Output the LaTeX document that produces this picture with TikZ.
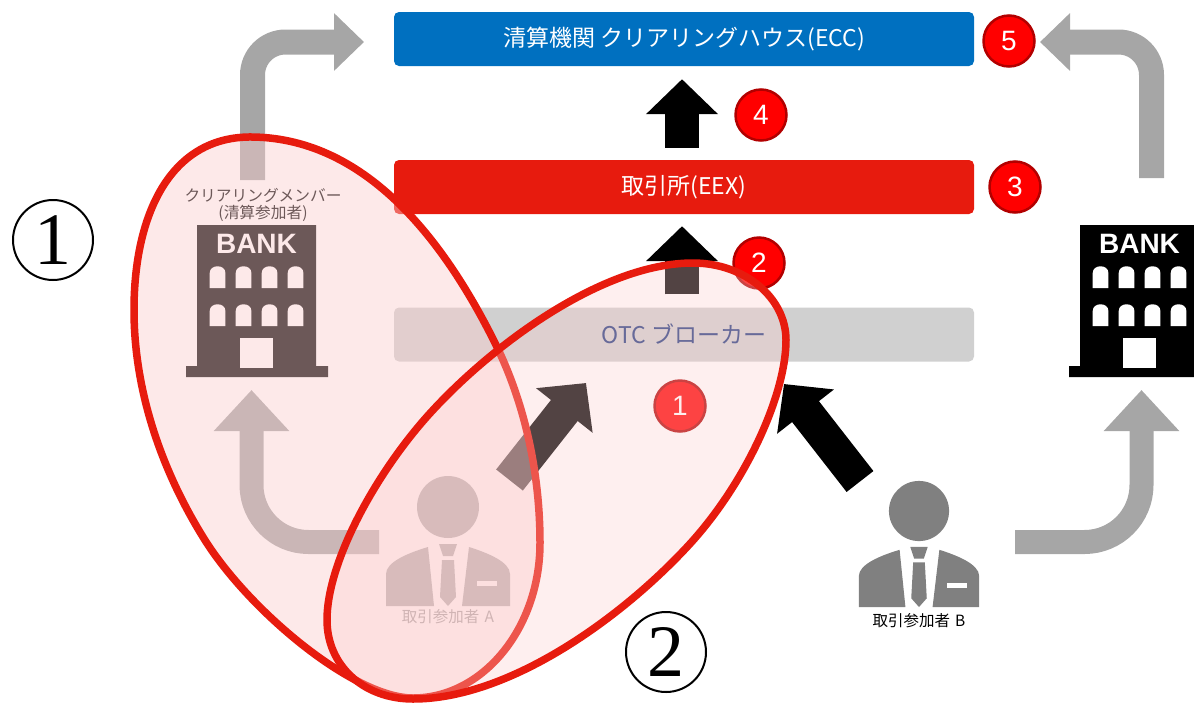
\documentclass[tikz,border=0pt]{standalone}
\usepackage{fontspec}
\setmainfont{Noto Sans CJK JP}
\newfontfamily\badgefont{Liberation Sans}
\newfontfamily\circledfont{Liberation Serif}
\usetikzlibrary{ % tikz packages
    arrows.meta,positioning
}
\definecolor{eccblue}{HTML}{0070C0}
\definecolor{eexred}{HTML}{E71B0E}
\definecolor{otcgray}{HTML}{D0D0D0}
\definecolor{otctext}{HTML}{1F3A80}
\definecolor{flowgray}{HTML}{A6A6A6}
\definecolor{zonefill}{RGB}{251,205,205}
\tikzset{
    marketbox/.style={
        rectangle,rounded corners=5pt,minimum width=580pt,minimum height=54pt,
        inner sep=0pt,text=white,font=\fontsize{23}{27}\selectfont
    },
    badge/.style={
        circle,minimum size=51pt,inner sep=0pt,line width=2.5pt,draw=red!70!black,
        fill=red,text=white,font=\badgefont\fontsize{28}{30}\selectfont
    },
    circlednum/.style={
        circle,minimum size=80pt,inner sep=0pt,line width=2pt,draw=black,
        font=\circledfont\fontsize{74}{74}\selectfont
    },
    zone/.style={
        line width=7.5pt,draw=eexred,fill=zonefill
    },
    grayflow/.style={
        -{Triangle[length=30pt,width=56pt]},line width=25pt,
        draw=flowgray
    },
    grayflowup/.style={
        -{Triangle[length=41pt,width=73pt]},line width=24pt,
        draw=flowgray
    },
    blackflow/.style={
        -{Triangle[length=35pt,width=70pt]},line width=34pt,
        draw=black
    },
    caption/.style={inner sep=0pt,font=\fontsize{15.5}{17}\selectfont}
}
\tikzset{
    bankicon/.pic={
        \fill (0,0) rectangle (119,141) (-11,141) rectangle (131,152);
        \fill[white] (43,113) rectangle (76,143);
        \foreach \wx in {12.7,38.7,64.7,90.7}
            \foreach \wy in {40,78}
                \fill[white] (\wx,\wy+23) -- (\wx,\wy+8)
                    .. controls (\wx,\wy-1) and (\wx+15.7,\wy-1) .. (\wx+15.7,\wy+8)
                    -- (\wx+15.7,\wy+23) -- cycle;
        \node[inner sep=0pt,text=white,font=\badgefont\bfseries\fontsize{28}{30}\selectfont]
            (-banktext) at (59.5,19) {BANK};
    },
    personicon/.pic={
        \fill (0,0) circle[radius=31pt];
        \fill (-62,99) -- (-62,67) .. controls (-62,55) and (-40,46) .. (-20,40)
            -- (-14,99) -- cycle;
        \fill (62,99) -- (62,67) .. controls (62,55) and (40,46) .. (21,40)
            -- (14,99) -- cycle;
        \fill (-9,37) -- (9,37) -- (5,49) -- (-5,49) -- cycle;
        \fill (-6,53) -- (6,53) -- (8,90) -- (0,99) -- (-8,90) -- cycle;
        \fill[white] (29,74) rectangle (49,79);
    }
}

\begin{document}
\begin{tikzpicture}[x=1pt,y=-1pt,node distance=148pt,on grid]
    \useasboundingbox (0,0) rectangle (1194,702);

    \node[marketbox,fill=eccblue] (ecc) at (684,39) {清算機関 クリアリングハウス(ECC)};
    \node[marketbox,fill=eexred] (eex) [below=of ecc] {取引所(EEX)};
    \node[marketbox,fill=otcgray,text=otctext] (otc) [below=147.5pt of eex] {OTC ブローカー};

    \node[caption,text=black,align=center,font=\fontsize{15.7}{17}\selectfont] (member) at (263,205)
        {クリアリングメンバー\\(清算参加者)};
    \pic[black] (bankl) at (197,225) {bankicon};
    \pic[black] (bankr) at (1080,225) {bankicon};
    \pic[black!37] (personl) at (448,507) {personicon};
    \pic[black!50,scale=.97] (personr) at (919,511) {personicon};
    \node[caption,text=black!45] (traderl) at (448,617) {取引参加者\,\,A};
    \node[caption] (traderr) at (919,621) {取引参加者\,\,B};

    % gray flows
    \coordinate (memberout) at (252.5,180);
    \coordinate (membercorner) at (252.5,42);
    \coordinate (eccleft) at (364,42);
    \coordinate (bankrout) at (1151.5,178);
    \coordinate (bankrcorner) at (1151.5,42);
    \coordinate (eccright) at (1040,42);
    \coordinate (traderlout) at (379,542);
    \coordinate (traderlcorner) at (251.5,542);
    \coordinate (bankltop) at (251.5,390);
    \coordinate (traderrout) at (1015,542);
    \coordinate (traderrcorner) at (1141.5,542);
    \coordinate (bankrtop) at (1141.5,390);
    \draw[grayflow,rounded corners=33pt] (memberout) -- (membercorner) -- (eccleft);
    \draw[grayflow,rounded corners=33pt] (bankrout) -- (bankrcorner) -- (eccright);
    \draw[grayflowup,rounded corners=57pt] (traderlout) -- (traderlcorner) -- (bankltop);
    \draw[grayflowup,rounded corners=57pt] (traderrout) -- (traderrcorner) -- (bankrtop);

    % black flows
    \coordinate (orderl) at (509.5,480);
    \coordinate (otcinl) at (586,383);
    \coordinate (orderr) at (860,481.5);
    \coordinate (otcinr) at (784,384);
    \draw[blackflow,shorten <=12pt,shorten >=13pt] ([xshift=-2pt]eex.north) -- ([xshift=-2pt]ecc.south);
    \draw[blackflow,shorten <=13pt,shorten >=12pt] ([xshift=-2pt]otc.north) -- ([xshift=-2pt]eex.south);
    \draw[blackflow] (orderl) -- (otcinl);
    \draw[blackflow] (orderr) -- (otcinr);

    \node[badge] (b1) at (680,406) {1};
    \node[badge] (b2) at (759,263) {2};
    \node[badge] (b3) at (1015,187) {3};
    \node[badge] (b4) at (761,115) {4};
    \node[badge] (b5) at (1009,41) {5};

    \node[circlednum] (c1) at (53,240) {1};
    \node[circlednum] (c2) at (666,652) {2};

    % zones over everything else
    \draw[zone,fill opacity=.43] (253,137)
        .. controls (368,139) and (446,243) .. (497,347)
        .. controls (526,407) and (540,476) .. (540,543)
        .. controls (540,628) and (483,698) .. (413,698)
        .. controls (353,698) and (247,609) .. (203,537)
        .. controls (161,469) and (134,390) .. (134,310)
        .. controls (134,215) and (170,135.5) .. (253,137) -- cycle;
    \draw[zone,fill opacity=.33] (693,263)
        .. controls (745,263) and (786,298) .. (786,340)
        .. controls (786,395) and (745,485) .. (687,547)
        .. controls (619,620) and (508,699) .. (413,699)
        .. controls (363,699) and (327,665) .. (327,620)
        .. controls (327,560) and (379,468) .. (433,410)
        .. controls (494,344) and (603,263) .. (693,263) -- cycle;
\end{tikzpicture}
\end{document}
